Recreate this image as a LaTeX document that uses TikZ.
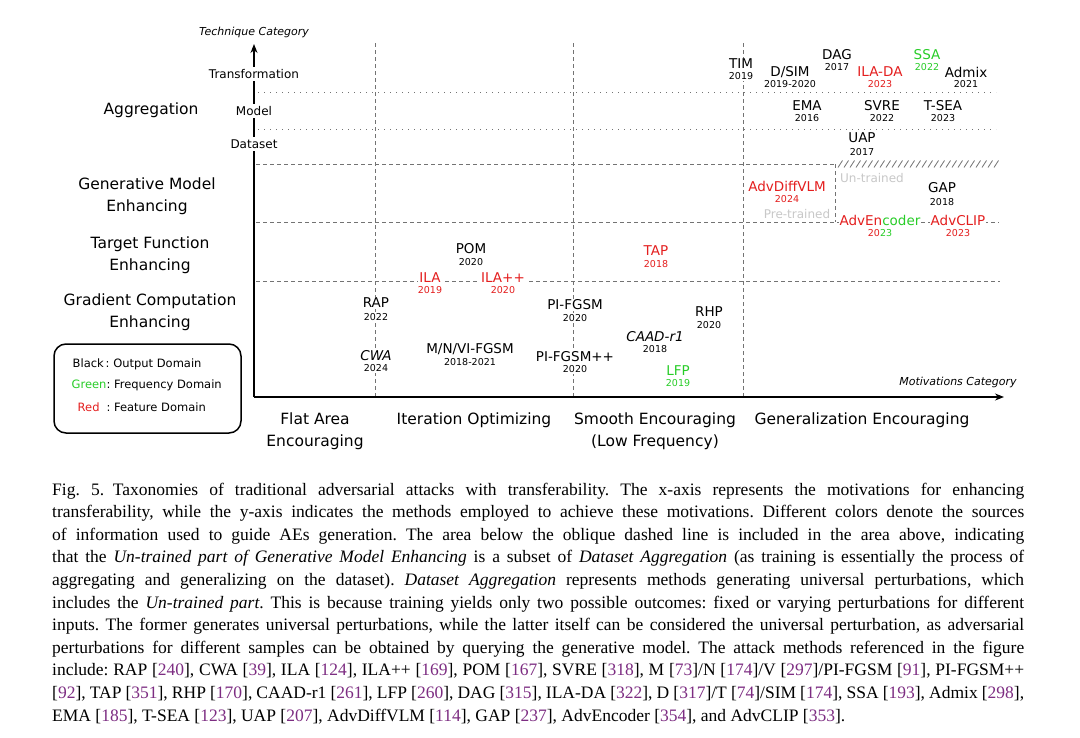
\documentclass[tikz,border=0pt]{standalone}
\usepackage{fontspec}
\setmainfont{DejaVu Sans}
\newfontfamily\capfont{Liberation Serif}
\usetikzlibrary{arrows.meta}
\definecolor{lred}{RGB}{228,30,30}
\definecolor{lgreen}{RGB}{40,205,40}
\definecolor{lgray}{RGB}{200,200,200}
\definecolor{citepurple}{RGB}{125,45,130}
\definecolor{gridgray}{RGB}{115,115,115}
\newcommand\mycapline[1]{\hbox to 972pt{#1}}
\newcommand\ct[1]{[\textcolor{citepurple}{#1}]}
\frenchspacing
\begin{document}
\begin{tikzpicture}[x=1pt,y=-1pt,
 every node/.style={inner sep=0.5pt},
 nm/.style={font=\fontsize{13.5}{15}\selectfont, fill=white, inner sep=1pt},
 yr/.style={font=\fontsize{9.5}{11}\selectfont, fill=white, inner sep=1pt},
 cat/.style={font=\fontsize{15.5}{21.5}\selectfont, align=center},
 sub/.style={font=\fontsize{12}{14}\selectfont, fill=white, inner sep=2.5pt},
 axlab/.style={font=\fontsize{11}{13}\selectfont\itshape},
 gray lab/.style={font=\fontsize{12}{14}\selectfont, text=lgray},
 gdash/.style={draw=gridgray, line width=0.8pt, dash pattern=on 4pt off 3pt},
 gdot/.style={draw=gridgray, line width=0.9pt, dash pattern=on 1pt off 5pt},
 axisline/.style={draw=black, line width=1.2pt},
 hatchln/.style={draw=gridgray, line width=0.8pt},
 legtext/.style={font=\fontsize{11.5}{14}\selectfont, anchor=west},
]
\useasboundingbox[fill=white] (0,0) rectangle (1080,737);

% ---------- grid ----------
\coordinate (v1t) at (375,43);  \coordinate (v1b) at (375,397);
\coordinate (v2t) at (573,43);  \coordinate (v2b) at (573,397);
\coordinate (v3t) at (743,43);  \coordinate (v3b) at (743,397);
\draw[gdash] (v1t) -- (v1b);
\draw[gdash] (v2t) -- (v2b);
\draw[gdash] (v3t) -- (v3b);

\coordinate (h1a) at (258,92);  \coordinate (h1b) at (996,92);
\coordinate (h2a) at (258,129); \coordinate (h2b) at (996,129);
\draw[gdot] (h1a) -- (h1b);
\draw[gdot] (h2a) -- (h2b);

\coordinate (h3a) at (256,164); \coordinate (h3b) at (835,164);
\coordinate (h3c) at (835,222);
\draw[gdash] (h3a) -- (h3b);
\draw[gdash] (h3b) -- (h3c);
\foreach \x in {838,844,...,994} \draw[hatchln] (\x,167.5) -- (\x+4.5,160.5);

\coordinate (h4a) at (256,222); \coordinate (h4b) at (999,222);
\draw[gdash] (h4a) -- (h4b);
\coordinate (h5a) at (256,281); \coordinate (h5b) at (1000,281);
\draw[gdash] (h5a) -- (h5b);

% ---------- axes ----------
\coordinate (o) at (254,397);
\coordinate (ytip) at (254,44);
\coordinate (xtip) at (1004,397);
\draw[axisline,-{Stealth[length=9pt,width=7pt]}] (o) -- (ytip);
\draw[axisline,-{Stealth[length=9pt,width=7pt]}] (o) -- (xtip);
\node[axlab] (ylab) at (254,32) {Technique Category};
\node[axlab] (xlab) at (958,382) {Motivations Category};

\node[sub] (trans) at (254,74) {Transformation};
\node[sub] (model) at (254,111) {Model};
\node[sub] (data) at (254,144) {Dataset};

% ---------- row labels ----------
\node[cat] (agg) at (151,110) {Aggregation};
\node[cat] (gen) at (147,196) {Generative Model\\Enhancing};
\node[cat] (tgt) at (150,255) {Target Function\\Enhancing};
\node[cat] (grad) at (150,312) {Gradient Computation\\Enhancing};

% ---------- column labels ----------
\node[cat] (flat) at (315,431) {Flat Area\\Encouraging};
\node[cat] (iter) at (474,420) {Iteration Optimizing};
\node[cat] (smooth) at (655,431) {Smooth Encouraging\\(Low Frequency)};
\node[cat] (genz) at (862,420) {Generalization Encouraging};

% ---------- legend ----------
\node[draw=black, line width=1.5pt, rounded corners=12pt, minimum width=187pt, minimum height=89pt] (legend) at (147.5,388.5) {};
\node[legtext] (lblack) at (72,364) {Black\,: Output Domain};
\node[legtext] (lgreen) at (71,385) {\textcolor{lgreen}{Green}: Frequency Domain};
\node[legtext] (lredt) at (77,407) {\textcolor{lred}{Red}\hspace{7pt}: Feature Domain};

% ---------- methods ----------
\node[nm] (rap) at (376,303) {RAP};          \node[yr] (rap-y) at (376,317) {2022};
\node[nm] (cwa) at (376,356) {\itshape CWA}; \node[yr] (cwa-y) at (376,368) {2024};
\node[nm,text=lred] (ila) at (430,278) {ILA};     \node[yr,text=lred] (ila-y) at (430,290) {2019};
\node[nm,text=lred] (ilapp) at (503,278) {ILA++}; \node[yr,text=lred] (ilapp-y) at (503,290) {2020};
\node[nm] (pom) at (471,249) {POM};          \node[yr] (pom-y) at (471,262) {2020};
\node[nm] (mnv) at (470,349) {M/N/VI-FGSM};  \node[yr] (mnv-y) at (470,362) {2018-2021};
\node[nm] (pif) at (575,305) {PI-FGSM};      \node[yr] (pif-y) at (575,318) {2020};
\node[nm] (pifpp) at (575,357) {PI-FGSM++};  \node[yr] (pifpp-y) at (575,369) {2020};
\node[nm,text=lred] (tap) at (656,251) {TAP};     \node[yr,text=lred] (tap-y) at (656,264) {2018};
\node[nm] (rhp) at (709,312) {RHP};          \node[yr] (rhp-y) at (709,325) {2020};
\node[nm] (caad) at (655,337) {\itshape CAAD-r1}; \node[yr] (caad-y) at (655,349) {2018};
\node[nm,text=lgreen] (lfp) at (678,371) {LFP};   \node[yr,text=lgreen] (lfp-y) at (678,383) {2019};

\node[nm] (tim) at (741,64) {TIM};           \node[yr] (tim-y) at (741,76) {2019};
\node[nm] (dsim) at (790,72) {D/SIM};        \node[yr] (dsim-y) at (790,84) {2019-2020};
\node[nm] (dag) at (837,55) {DAG};           \node[yr] (dag-y) at (837,67) {2017};
\node[nm,text=lred] (ilada) at (880,72) {ILA-DA}; \node[yr,text=lred] (ilada-y) at (880,84) {2023};
\node[nm,text=lgreen] (ssa) at (927,55) {SSA};    \node[yr,text=lgreen] (ssa-y) at (927,67) {2022};
\node[nm] (admix) at (966,72) {Admix};       \node[yr] (admix-y) at (966,84) {2021};
\node[nm] (ema) at (807,106) {EMA};          \node[yr] (ema-y) at (807,118) {2016};
\node[nm] (svre) at (882,106) {SVRE};        \node[yr] (svre-y) at (882,118) {2022};
\node[nm] (tsea) at (943,106) {T-SEA};       \node[yr] (tsea-y) at (943,118) {2023};
\node[nm] (uap) at (862,138) {UAP};          \node[yr] (uap-y) at (862,152) {2017};

\node[nm,text=lred] (advdiff) at (787,186) {AdvDiffVLM}; \node[yr,text=lred] (advdiff-y) at (787,199) {2024};
\node[nm] (gap) at (942,188) {GAP};          \node[yr] (gap-y) at (942,202) {2018};
\node[nm] (advenc) at (880,220) {\textcolor{lred}{AdvEn}\textcolor{lgreen}{coder}};
\node[yr] (advenc-y) at (880,233) {\textcolor{lred}{20}\textcolor{lgreen}{23}};
\node[nm,text=lred] (advclip) at (958,220) {AdvCLIP}; \node[yr,text=lred] (advclip-y) at (958,233) {2023};
\node[gray lab] (untr) at (872,178) {Un-trained};
\node[gray lab] (pretr) at (797,214) {Pre-trained};

% ---------- caption ----------
\node[anchor=base west, inner sep=0, font=\capfont\fontsize{17.5}{22.6}\selectfont] (caption) at (52,495) {\vtop{%
\mycapline{Fig.~5.\enspace Taxonomies of traditional adversarial attacks with transferability. The x-axis represents the motivations for enhancing}%
\mycapline{transferability, while the y-axis indicates the methods employed to achieve these motivations. Different colors denote the sources}%
\mycapline{of information used to guide AEs generation. The area below the oblique dashed line is included in the area above, indicating}%
\mycapline{that the \emph{Un-trained part of Generative Model Enhancing} is a subset of \emph{Dataset Aggregation} (as training is essentially the process of}%
\mycapline{aggregating and generalizing on the dataset). \emph{Dataset Aggregation} represents methods generating universal perturbations, which}%
\mycapline{includes the \emph{Un-trained part}. This is because training yields only two possible outcomes: fixed or varying perturbations for different}%
\mycapline{inputs. The former generates universal perturbations, while the latter itself can be considered the universal perturbation, as adversarial}%
\mycapline{perturbations for different samples can be obtained by querying the generative model. The attack methods referenced in the figure}%
\mycapline{include: RAP \ct{240}, CWA \ct{39}, ILA \ct{124}, ILA++ \ct{169}, POM \ct{167}, SVRE \ct{318}, M \ct{73}/N \ct{174}/V \ct{297}/PI-FGSM \ct{91}, PI-FGSM++}%
\mycapline{\ct{92}, TAP \ct{351}, RHP \ct{170}, CAAD-r1 \ct{261}, LFP \ct{260}, DAG \ct{315}, ILA-DA \ct{322}, D \ct{317}/T \ct{74}/SIM \ct{174}, SSA \ct{193}, Admix \ct{298},}%
\hbox{EMA \ct{185}, T-SEA \ct{123}, UAP \ct{207}, AdvDiffVLM \ct{114}, GAP \ct{237}, AdvEncoder \ct{354}, and AdvCLIP \ct{353}.}%
}};
\end{tikzpicture}
\end{document}
